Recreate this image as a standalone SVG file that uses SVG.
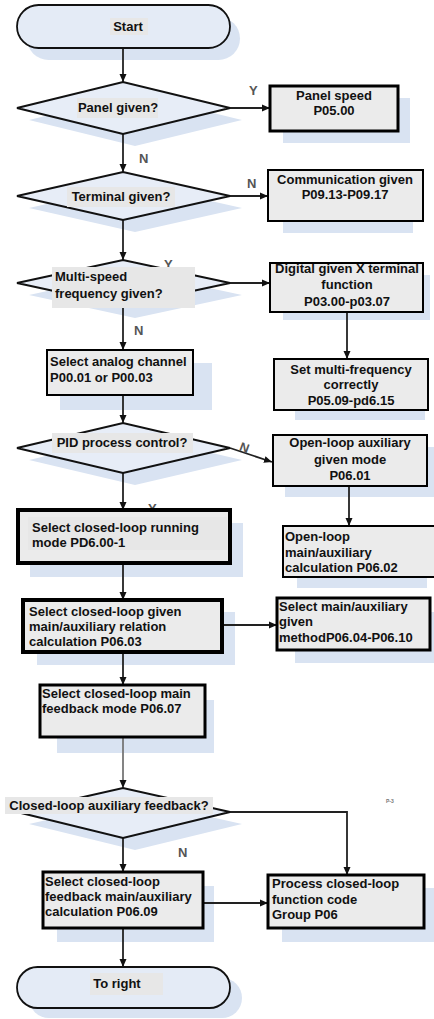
<svg xmlns="http://www.w3.org/2000/svg" width="434" height="1019" viewBox="0 0 434 1019">
  <defs>
    <marker id="arrow" viewBox="0 0 8 8" refX="8" refY="4" markerWidth="8" markerHeight="8" markerUnits="userSpaceOnUse" orient="auto">
      <path d="M0,0.5 L8,4 L0,7.5 Z" fill="#111"/>
    </marker>
    <style>
      text { font-family: "Liberation Sans", Arial, sans-serif; font-weight: bold; font-size: 13px; fill: #111; }
      .c { text-anchor: middle; }
      .lbl { font-size: 13px; fill: #555; }
      .shadow { fill: #d9e3f2; }
      .term { fill: #e4ebf6; stroke: #111; stroke-width: 1.8; }
      .dec { fill: #e7edf7; stroke: #111; stroke-width: 2; }
      .box { fill: #ebebeb; stroke: #000; stroke-width: 2; }
      .b3 { stroke-width: 3; }
      .b4 { stroke-width: 4; }
      .tbg { fill: #e7e7e7; }
      .edge { fill: none; stroke: #222; stroke-width: 1.8; marker-end: url(#arrow); }
      .soft { stroke: #777; }
    </style>
  </defs>
  <rect width="434" height="1019" fill="#fff"/>

  <!-- drop shadows sit under everything -->
  <g id="shadows">
    <rect class="shadow" x="27" y="17" width="213" height="43" rx="21.5"/>
    <polygon class="shadow" points="29,120 135,94 242,120 135,146"/>
    <rect class="shadow" x="283" y="98" width="127" height="45"/>
    <polygon class="shadow" points="29,208 135,184 242,208 135,232"/>
    <rect class="shadow" x="283" y="182" width="130" height="51"/>
    <polygon class="shadow" points="29,295 135,272 242,295 135,318"/>
    <rect class="shadow" x="283" y="275" width="147" height="45"/>
    <rect class="shadow" x="60" y="363" width="152" height="47"/>
    <rect class="shadow" x="295" y="372" width="130" height="48"/>
    <polygon class="shadow" points="29,460 135,435 242,460 135,485"/>
    <rect class="shadow" x="285" y="447" width="149" height="50"/>
    <rect class="shadow" x="30" y="523" width="213" height="54"/>
    <rect class="shadow" x="297" y="539" width="130" height="49"/>
    <rect class="shadow" x="37" y="612" width="198" height="53"/>
    <rect class="shadow" x="295" y="612" width="139" height="51"/>
    <rect class="shadow" x="57" y="700" width="157" height="53"/>
    <polygon class="shadow" points="29,824 135,800 242,824 135,850"/>
    <rect class="shadow" x="57" y="886" width="157" height="56"/>
    <rect class="shadow" x="282" y="888" width="152" height="54"/>
    <rect class="shadow" x="29" y="978" width="213" height="40" rx="20"/>
  </g>

  <!-- connectors and their Y/N labels -->
  <g id="connectors">
    <path class="edge" d="M123,48 V82"/>
    <path class="edge" d="M230,108 H270"/>
    <text class="lbl" x="249" y="95">Y</text>
    <path class="edge" d="M123,134 V172"/>
    <text class="lbl" x="139" y="163">N</text>
    <path class="edge" d="M230,196 H268"/>
    <text class="lbl" x="247" y="188">N</text>
    <path class="edge" d="M123,220 V260"/>
    <text class="lbl" x="164" y="269">Y</text>
    <path class="edge" d="M230,283 H270"/>
    <path class="edge" d="M347,312 V359"/>
    <path class="edge" d="M123,306 V350"/>
    <text class="lbl" x="134" y="335">N</text>
    <path class="edge" d="M123,395 V423"/>
    <path class="edge" d="M230,448 L272,462"/>
    <text class="lbl" x="240" y="452" transform="rotate(20 244 447)">N</text>
    <text class="lbl" x="148" y="463">Y</text>
    <path class="edge" d="M349,486 V526"/>
    <path class="edge" d="M123,473 V510"/>
    <text class="lbl" x="148" y="513">Y</text>
    <path class="edge" d="M123,563 V600"/>
    <path class="edge" d="M222,625 H277"/>
    <path class="edge" d="M123,652 V685"/>
    <path class="edge soft" d="M123,737 V788"/>
    <path class="edge" d="M230,812 H347 V875"/>
    <text class="lbl" x="178" y="857">N</text>
    <path class="edge" d="M123,838 V872"/>
    <path class="edge" d="M203,903 H268"/>
    <path class="edge" d="M123,928 V967"/>
  </g>

  <g id="start">
    <rect class="term" x="17" y="5" width="213" height="43" rx="21.5"/>
    <rect class="tbg" x="110" y="18" width="38" height="17"/>
    <text class="c" x="128" y="31">Start</text>
  </g>

  <g id="panel-given">
    <polygon class="dec" points="17,108 123,82 230,108 123,134"/>
    <rect class="tbg" x="77" y="98" width="81" height="20"/>
    <text class="c" x="118" y="112">Panel given?</text>
  </g>

  <g id="panel-speed">
    <rect class="box b3" x="270" y="86" width="128" height="45"/>
    <text class="c" x="334" y="100">Panel speed</text>
    <text class="c" x="334" y="115">P05.00</text>
  </g>

  <g id="terminal-given">
    <polygon class="dec" points="17,196 123,172 230,196 123,220"/>
    <rect class="tbg" x="67" y="187" width="108" height="20"/>
    <text class="c" x="121" y="201">Terminal given?</text>
  </g>

  <g id="communication-given">
    <rect class="box" x="268" y="170" width="155" height="51"/>
    <text class="c" x="345" y="184">Communication given</text>
    <text class="c" x="345" y="199">P09.13-P09.17</text>
  </g>

  <g id="multi-speed">
    <polygon class="dec" points="17,283 123,260 230,283 123,306"/>
    <rect class="tbg" x="52" y="267" width="143" height="41"/>
    <text x="55" y="281">Multi-speed</text>
    <text x="55" y="298">frequency given?</text>
  </g>

  <g id="digital-given">
    <rect class="box" x="270" y="263" width="153" height="49"/>
    <text class="c" x="347" y="273">Digital given X terminal</text>
    <text class="c" x="347" y="289">function</text>
    <text class="c" x="347" y="306">P03.00-p03.07</text>
  </g>

  <g id="set-multi-frequency">
    <rect class="box" x="274" y="359" width="154" height="51"/>
    <text class="c" x="351" y="374">Set multi-frequency</text>
    <text class="c" x="351" y="389">correctly</text>
    <text class="c" x="351" y="405">P05.09-pd6.15</text>
  </g>

  <g id="select-analog">
    <rect class="box" x="47" y="350" width="146" height="45"/>
    <text x="50" y="366">Select analog channel</text>
    <text x="50" y="382">P00.01 or P00.03</text>
  </g>

  <g id="pid-control">
    <polygon class="dec" points="17,448 123,423 230,448 123,473"/>
    <rect class="tbg" x="52" y="433" width="141" height="20"/>
    <text class="c" x="122" y="447">PID process control?</text>
  </g>

  <g id="open-loop-auxiliary">
    <rect class="box" x="273" y="435" width="154" height="51"/>
    <text class="c" x="350" y="447">Open-loop auxiliary</text>
    <text class="c" x="350" y="464">given mode</text>
    <text class="c" x="350" y="480">P06.01</text>
  </g>

  <g id="open-loop-main">
    <rect class="box" x="283" y="526" width="156" height="51"/>
    <text x="285" y="541">Open-loop</text>
    <text x="285" y="557">main/auxiliary</text>
    <text x="285" y="572">calculation P06.02</text>
  </g>

  <g id="closed-loop-running">
    <rect class="box b4" x="18" y="510" width="212" height="53"/>
    <rect class="tbg" x="28" y="517" width="199" height="33"/>
    <text x="32" y="532">Select closed-loop running</text>
    <text x="32" y="547">mode PD6.00-1</text>
  </g>

  <g id="closed-loop-given">
    <rect class="box b4" x="23" y="600" width="199" height="52"/>
    <text x="29" y="616">Select closed-loop given</text>
    <text x="29" y="631">main/auxiliary relation</text>
    <text x="29" y="646">calculation P06.03</text>
  </g>

  <g id="main-auxiliary-method">
    <rect class="box b3" x="277" y="598" width="153" height="52"/>
    <text x="279" y="611">Select main/auxiliary</text>
    <text x="279" y="626">given</text>
    <text x="279" y="642">methodP06.04-P06.10</text>
  </g>

  <g id="closed-loop-main-feedback">
    <rect class="box b3" x="40" y="685" width="165" height="52"/>
    <text x="42" y="698">Select closed-loop main</text>
    <text x="42" y="713">feedback mode P06.07</text>
  </g>

  <g id="closed-loop-aux-feedback">
    <polygon class="dec" points="17,812 123,788 230,812 123,838"/>
    <rect class="tbg" x="5" y="797" width="208" height="17"/>
    <text class="c" x="109" y="810">Closed-loop auxiliary feedback?</text>
  </g>

  <text x="386" y="803" style="font-size:5px;fill:#777">P-3</text>

  <g id="feedback-calculation">
    <rect class="box b3" x="43" y="872" width="160" height="56"/>
    <text x="45" y="886">Select closed-loop</text>
    <text x="45" y="901">feedback main/auxiliary</text>
    <text x="45" y="916">calculation P06.09</text>
  </g>

  <g id="process-closed-loop">
    <rect class="box b3" x="268" y="875" width="156" height="53"/>
    <text x="272" y="888">Process closed-loop</text>
    <text x="272" y="904">function code</text>
    <text x="272" y="919">Group P06</text>
  </g>

  <g id="to-right">
    <rect class="term" x="17" y="967" width="213" height="41" rx="20.5"/>
    <rect class="tbg" x="90" y="973" width="73" height="22"/>
    <text class="c" x="117" y="988">To right</text>
  </g>
</svg>
